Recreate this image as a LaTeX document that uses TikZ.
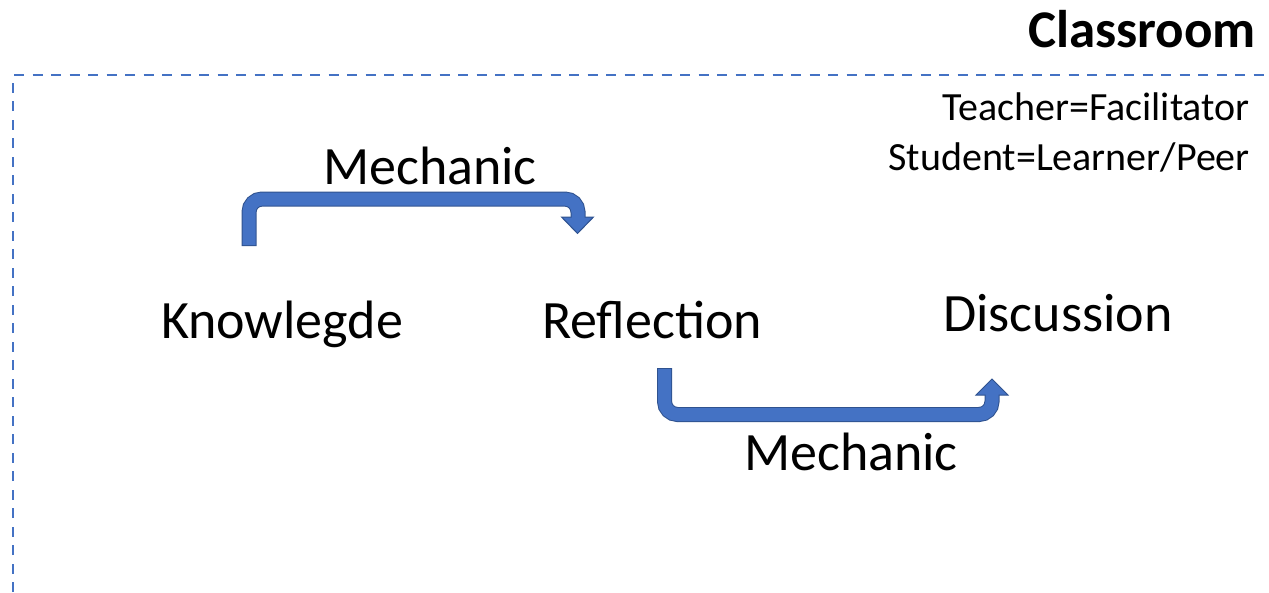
\documentclass[tikz,border=0pt]{standalone}
\usepackage{fontspec}
\setmainfont{Carlito}
\definecolor{accent}{HTML}{4472C4}
\definecolor{accentdark}{HTML}{2F528F}
\tikzset{
  label54/.style={inner sep=0pt, anchor=base, font=\fontsize{54}{60}\selectfont},
  note40/.style={inner sep=0pt, anchor=base east, font=\fontsize{40}{46}\selectfont},
  frameline/.style={draw=accent, line width=2.3pt, dash pattern=on 10pt off 8.5pt},
  shaftout/.style={draw=accentdark, line width=15pt, rounded corners=13pt, line cap=butt},
  shaftin/.style={draw=accent, line width=13pt, rounded corners=13pt, line cap=butt},
  headshape/.style={fill=accent, draw=accentdark, line width=1pt, line join=miter},
}
\begin{document}
\begin{tikzpicture}[x=1pt, y=-1pt]
\useasboundingbox (0,0) rectangle (1269,592);

% classroom frame
\coordinate (fbl) at (13,592);
\coordinate (ftl) at (13,75);
\coordinate (ftr) at (1269,75);
\draw[frameline] (fbl) -- (ftl) -- (ftr);

\node[inner sep=0pt, anchor=base east, font=\bfseries\fontsize{53}{60}\selectfont] (title) at (1256,47) {Classroom};
\node[note40] (teacher) at (1250,120) {Teacher=Facilitator};
\node[note40] (student) at (1250,170) {Student=Learner/Peer};

% stages
\node[label54] (know) at (282,338) {Knowlegde};
\node[label54] (refl) at (652,338) {Reflection};
\node[label54] (disc) at (1058,331) {Discussion};

% mechanic labels
\node[label54] (mech1) at (430,184) {Mechanic};
\node[label54] (mech2) at (851,470) {Mechanic};

% first bent arrow: Knowlegde -> Reflection
\coordinate (a1s) at (249,246);
\coordinate (a1c1) at (249,199);
\coordinate (a1c2) at (578,199);
\coordinate (a1b) at (578,217);
\coordinate (a1bi) at (578,219);
\coordinate (a1l) at (561.5,217);
\coordinate (a1r) at (593.5,217);
\coordinate (a1t) at (577.5,233.5);
\draw[shaftout] (a1s) -- (a1c1) -- (a1c2) -- (a1b);
\draw[headshape] (a1l) -- (a1t) -- (a1r) -- cycle;
\draw[shaftin, shorten <=1pt] (a1s) -- (a1c1) -- (a1c2) -- (a1bi);

% second bent arrow: Reflection -> Discussion
\coordinate (a2s) at (664.5,368);
\coordinate (a2c1) at (664.5,414.5);
\coordinate (a2c2) at (992,414.5);
\coordinate (a2b) at (992,395);
\coordinate (a2bi) at (992,393);
\coordinate (a2l) at (976,395);
\coordinate (a2r) at (1008,395);
\coordinate (a2t) at (992,379);
\draw[shaftout] (a2s) -- (a2c1) -- (a2c2) -- (a2b);
\draw[headshape] (a2l) -- (a2t) -- (a2r) -- cycle;
\draw[shaftin, shorten <=1pt] (a2s) -- (a2c1) -- (a2c2) -- (a2bi);
\end{tikzpicture}
\end{document}
